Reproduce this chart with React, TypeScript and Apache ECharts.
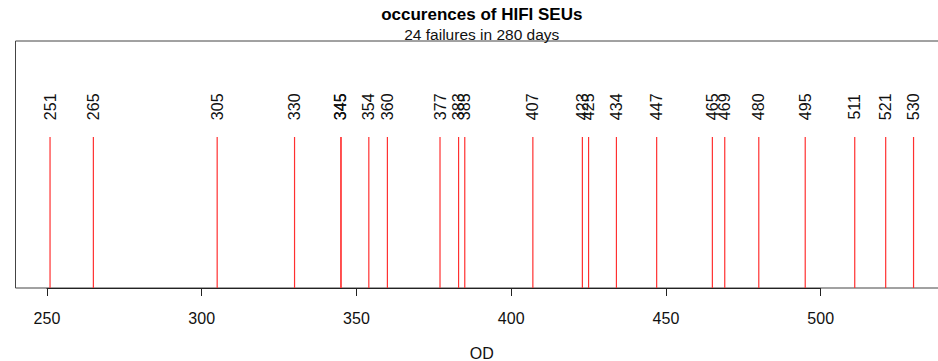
import React, { useEffect, useRef } from "react";
import * as echarts from "echarts";

// ---- data ----
const failureDays: number[] = [
  251, 265, 305, 330, 345, 345, 354, 360, 377, 383, 385, 407, 423, 425, 434,
  447, 465, 469, 480, 495, 511, 521, 530,
];
const markHeight = 1; // height of each occurrence mark
const labelHeight = 1.2; // y position of the rotated labels
const axisTickValues: number[] = [250, 300, 350, 400, 450, 500];
const titleText = "occurences of HIFI SEUs";
const subtitleText = "24 failures in 280 days";
const xAxisTitle = "OD";

// ---- layout ----
const X_MIN = 239.84;
const X_MAX = 541.16;
const Y_MAX = 1.636;
const GRID_LEFT = 15.5;
const GRID_TOP = 41;
const GRID_HEIGHT = 247;
const PX_PER_UNIT = 3.095;
const GRID_WIDTH = (X_MAX - X_MIN) * PX_PER_UNIT;
const CANVAS_W = 980;
const AXIS_MIN = axisTickValues[0];
const AXIS_MAX = axisTickValues[axisTickValues.length - 1];
const AXIS_LEFT = GRID_LEFT + (AXIS_MIN - X_MIN) * PX_PER_UNIT;
const AXIS_WIDTH = (AXIS_MAX - AXIS_MIN) * PX_PER_UNIT;
const PLOT_CENTER = GRID_LEFT + GRID_WIDTH / 2;
const FONT = "'Liberation Sans', Arial, Helvetica, sans-serif";

export default function App() {
  const ref = useRef<HTMLDivElement>(null);

  useEffect(() => {
    if (!ref.current) return;
    const chart = echarts.init(ref.current, null, { renderer: "svg" });
    chart.setOption({
      animation: false,
      backgroundColor: "#ffffff",
      textStyle: { fontFamily: FONT },
      grid: [
        {
          left: GRID_LEFT,
          top: GRID_TOP,
          width: GRID_WIDTH,
          height: GRID_HEIGHT,
          show: true,
          borderColor: "#444",
          borderWidth: 1,
          backgroundColor: "transparent",
        },
        {
          left: AXIS_LEFT,
          top: GRID_TOP,
          width: AXIS_WIDTH,
          height: GRID_HEIGHT,
          show: false,
        },
      ],
      xAxis: [
        {
          type: "value",
          gridIndex: 0,
          min: X_MIN,
          max: X_MAX,
          show: false,
        },
        {
          type: "value",
          gridIndex: 1,
          min: AXIS_MIN,
          max: AXIS_MAX,
          interval: 50,
          position: "bottom",
          axisLine: { show: true, lineStyle: { color: "#222", width: 1 } },
          axisTick: {
            show: true,
            inside: false,
            length: 8,
            lineStyle: { color: "#222", width: 1 },
          },
          axisLabel: {
            show: true,
            margin: 22,
            fontSize: 16,
            color: "#111",
            fontFamily: FONT,
          },
          splitLine: { show: false },
        },
      ],
      yAxis: [
        { type: "value", gridIndex: 0, min: 0, max: Y_MAX, show: false },
        { type: "value", gridIndex: 1, min: 0, max: 1, show: false },
      ],
      graphic: [
        {
          type: "text",
          x: PLOT_CENTER,
          y: 14,
          style: {
            text: titleText,
            align: "center",
            verticalAlign: "middle",
            fontSize: 17,
            fontWeight: "bold",
            fontFamily: FONT,
            fill: "#000",
          },
        },
        {
          type: "text",
          x: PLOT_CENTER,
          y: 34,
          style: {
            text: subtitleText,
            align: "center",
            verticalAlign: "middle",
            fontSize: 15.5,
            fontFamily: FONT,
            fill: "#111",
          },
        },
        {
          type: "text",
          x: PLOT_CENTER,
          y: 353,
          style: {
            text: xAxisTitle,
            align: "center",
            verticalAlign: "middle",
            fontSize: 16,
            fontFamily: FONT,
            fill: "#111",
          },
        },
      ],
      series: [
        {
          type: "custom",
          xAxisIndex: 0,
          yAxisIndex: 0,
          itemStyle: { color: "#ff0000" },
          data: failureDays.map((d) => [d, markHeight]),
          encode: { x: 0, y: 1 },
          renderItem: (params: any, api: any) => {
            const x = api.value(0);
            const h = api.value(1);
            const p0 = api.coord([x, 0]);
            const p1 = api.coord([x, h]);
            const pt = api.coord([x, labelHeight]);
            return {
              type: "group",
              children: [
                {
                  type: "line",
                  shape: { x1: p0[0], y1: p0[1], x2: p1[0], y2: p1[1] },
                  style: { stroke: "#ff3030", lineWidth: 1.2, fill: null },
                },
                {
                  type: "text",
                  x: pt[0],
                  y: pt[1],
                  rotation: Math.PI / 2,
                  style: {
                    text: String(x),
                    align: "center",
                    verticalAlign: "middle",
                    fontSize: 16,
                    fontFamily: FONT,
                    fill: "#111",
                  },
                },
              ],
            };
          },
        },
      ],
    });
    return () => chart.dispose();
  }, []);

  return (
    <div
      style={{
        position: "absolute",
        left: 0,
        top: 0,
        width: 938,
        height: 361,
        overflow: "hidden",
        background: "#fff",
      }}
    >
      <div ref={ref} style={{ width: CANVAS_W, height: 361 }} />
    </div>
  );
}
